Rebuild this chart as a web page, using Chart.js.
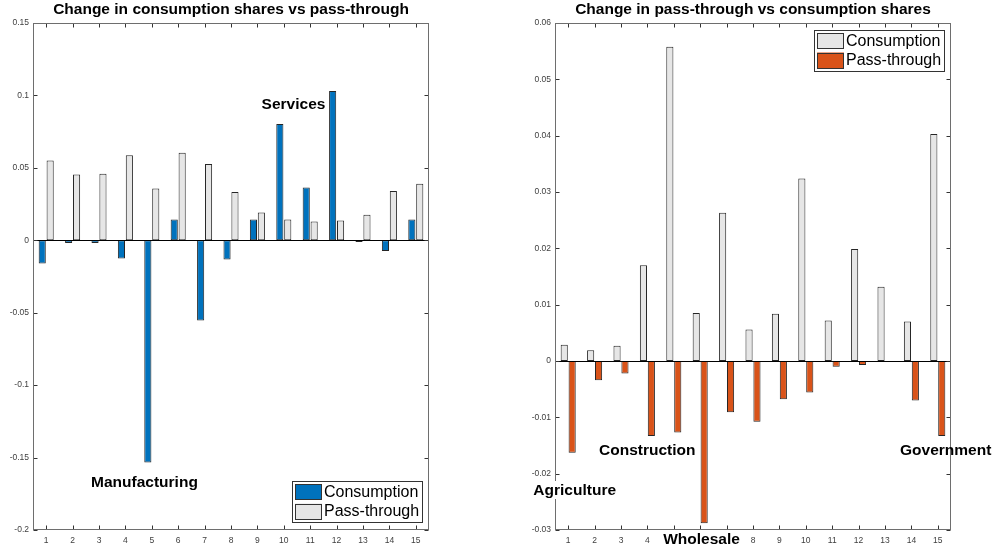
<!doctype html>
<html>
<head>
  <meta charset="utf-8">
  <script src="https://cdn.jsdelivr.net/npm/chart.js@4/dist/chart.umd.min.js"></script>
  <style>
    html, body { margin: 0; padding: 0; background: #fff; }
    .panel { position: absolute; top: 0; width: 496px; height: 545px; }
  </style>
</head>
<body>
  <div class="panel" style="left:0"><canvas id="left" width="496" height="545"></canvas></div>
  <div class="panel" style="left:496px"><canvas id="right" width="496" height="545"></canvas></div>
  <script>
    const sectors = ['1','2','3','4','5','6','7','8','9','10','11','12','13','14','15'];

    // left panel: change in consumption shares vs pass-through
    const consLeft = [-0.0161, -0.0018, -0.0018, -0.0126, -0.1534, 0.0143, -0.0554, -0.0133,
                      0.0143, 0.0803, 0.0364, 0.1030, -0.0012, -0.0074, 0.0143];
    const passLeft = [0.0550, 0.0455, 0.0460, 0.0587, 0.0357, 0.0605, 0.0527, 0.0334,
                      0.0191, 0.0143, 0.0129, 0.0136, 0.0177, 0.0340, 0.0391];
    const yTicksLeft = [-0.2, -0.15, -0.1, -0.05, 0, 0.05, 0.1, 0.15];

    // right panel: change in pass-through vs consumption shares
    const consRight = [0.0029, 0.0019, 0.0027, 0.0170, 0.0558, 0.0085, 0.0263, 0.0056,
                       0.0084, 0.0324, 0.0072, 0.0199, 0.0132, 0.0070, 0.0403];
    const passRight = [-0.0163, -0.0034, -0.0022, -0.0133, -0.0127, -0.0288, -0.0091, -0.0108,
                       -0.0068, -0.0056, -0.0010, -0.0007, -0.0001, -0.0070, -0.0133];
    const yTicksRight = [-0.03, -0.02, -0.01, 0, 0.01, 0.02, 0.03, 0.04, 0.05, 0.06];

    // text labels placed in data units (x = sector position of the text's left edge)
    const labelsLeft = [
      { text: 'Services', x: 9.16, y: 0.0943 },
      { text: 'Manufacturing', x: 2.70, y: -0.1668 }
    ];
    const labelsRight = [
      { text: 'Construction', x: 2.17, y: -0.0157 },
      { text: 'Agriculture', x: -0.32, y: -0.0229, bg: true },
      { text: 'Wholesale', x: 4.60, y: -0.0316, bg: true },
      { text: 'Government', x: 13.57, y: -0.0157 }
    ];

    const BLUE = '#0072BD', ORANGE = '#D95319', GRAY = '#E6E6E6', EDGE = '#262626';
    const FONT = '"Liberation Sans", Arial, Helvetica, sans-serif';

    const matlabPlugin = {
      id: 'matlab',
      afterDatasetsDraw(chart) {
        const { ctx, chartArea: a, scales: { y } } = chart;
        const y0 = Math.round(y.getPixelForValue(0)) + 0.5;
        ctx.save();
        ctx.strokeStyle = '#000';
        ctx.lineWidth = 1;
        ctx.beginPath(); ctx.moveTo(a.left, y0); ctx.lineTo(a.right, y0); ctx.stroke();
        ctx.restore();
      },
      afterDraw(chart, args, opts) {
        const { ctx, chartArea: a, scales: { x, y } } = chart;
        const L = Math.round(a.left) + 0.5, R = Math.round(a.right) - 0.5;
        const T = Math.round(a.top) + 0.5, B = Math.round(a.bottom) - 0.5;
        ctx.save();
        // inside tick marks
        ctx.strokeStyle = '#333';
        ctx.lineWidth = 1;
        ctx.beginPath();
        x.ticks.forEach((t, i) => {
          const px = Math.round(x.getPixelForTick(i)) + 0.5;
          ctx.moveTo(px, T); ctx.lineTo(px, T + 4);
          ctx.moveTo(px, B); ctx.lineTo(px, B - 4);
        });
        y.ticks.forEach((t, i) => {
          const py = Math.round(y.getPixelForTick(i)) + 0.5;
          ctx.moveTo(L, py); ctx.lineTo(L + 4, py);
          ctx.moveTo(R, py); ctx.lineTo(R - 4, py);
        });
        ctx.stroke();
        // box
        ctx.strokeStyle = '#6e6e6e';
        ctx.strokeRect(L, T, R - L, B - T);

        // title
        ctx.fillStyle = '#000';
        ctx.font = 'bold 15.5px ' + FONT;
        ctx.textAlign = 'center';
        ctx.textBaseline = 'middle';
        ctx.fillText(opts.title, (a.left + a.right) / 2, 10);

        // legend
        const ds = chart.data.datasets;
        const lw = 130, lh = 41;
        const lx = a.right - 7 - lw;
        const ly = opts.legendPos === 'br' ? a.bottom - 8 - lh : a.top + 7;
        ctx.fillStyle = '#fff';
        ctx.fillRect(lx, ly, lw, lh);
        ctx.strokeStyle = '#333';
        ctx.strokeRect(Math.round(lx) + 0.5, Math.round(ly) + 0.5, lw, lh);
        ctx.font = '16px ' + FONT;
        ctx.textAlign = 'left';
        ds.forEach((d, i) => {
          const sy = ly + 3 + i * 19.5;
          ctx.fillStyle = d.backgroundColor;
          ctx.fillRect(lx + 3, sy, 27, 16);
          ctx.strokeStyle = '#333';
          ctx.strokeRect(Math.round(lx + 3) + 0.5, Math.round(sy) + 0.5, 26, 15);
          ctx.fillStyle = '#000';
          ctx.fillText(d.label, lx + 32, sy + 8.5);
        });

        // text annotations
        const step = x.getPixelForTick(1) - x.getPixelForTick(0);
        const x1 = x.getPixelForTick(0);
        ctx.font = 'bold 15.5px ' + FONT;
        opts.labels.forEach(l => {
          const px = x1 + (l.x - 1) * step;
          const py = y.getPixelForValue(l.y);
          const w = ctx.measureText(l.text).width;
          if (l.bg) {
            ctx.fillStyle = '#fff';
            ctx.fillRect(px - 2, py - 9, w + 4, 18);
          }
          ctx.fillStyle = '#000';
          ctx.fillText(l.text, px, py + 1);
        });
        ctx.restore();
      }
    };

    function makeChart(id, cons, pass, consColor, passColor, yTicks, yWidth, padRight, title, legendPos, labels) {
      const tickVals = yTicks.slice();
      return new Chart(document.getElementById(id), {
        type: 'bar',
        data: {
          labels: sectors,
          datasets: [
            { label: 'Consumption', data: cons, backgroundColor: consColor,
              borderColor: EDGE, borderWidth: 1, borderSkipped: false },
            { label: 'Pass-through', data: pass, backgroundColor: passColor,
              borderColor: EDGE, borderWidth: 1, borderSkipped: false }
          ]
        },
        options: {
          responsive: false,
          animation: false,
          events: [],
          layout: { padding: { left: 0, right: padRight, top: 23, bottom: 0 } },
          datasets: { bar: { categoryPercentage: 0.6, barPercentage: 0.9 } },
          plugins: {
            legend: { display: false },
            title: { display: false },
            tooltip: { enabled: false },
            matlab: { title: title, legendPos: legendPos, labels: labels }
          },
          scales: {
            x: {
              grid: { display: false, drawTicks: false },
              border: { display: false },
              ticks: { color: '#404040', font: { family: FONT, size: 8.5 }, padding: 6,
                       autoSkip: false, maxRotation: 0 },
              afterFit(s) { s.height = 15; }
            },
            y: {
              min: tickVals[0],
              max: tickVals[tickVals.length - 1],
              grid: { display: false, drawTicks: false },
              border: { display: false },
              afterBuildTicks(s) { s.ticks = tickVals.map(v => ({ value: v })); },
              ticks: { color: '#404040', font: { family: FONT, size: 8.5 }, padding: 4,
                       callback: v => String(+v.toFixed(4)) },
              afterFit(s) { s.width = yWidth; }
            }
          }
        },
        plugins: [matlabPlugin]
      });
    }

    makeChart('left', consLeft, passLeft, BLUE, GRAY, yTicksLeft, 33, 67,
      'Change in consumption shares vs pass-through', 'br', labelsLeft);
    makeChart('right', consRight, passRight, GRAY, ORANGE, yTicksRight, 59, 41,
      'Change in pass-through vs consumption shares', 'tr', labelsRight);
  </script>
</body>
</html>
